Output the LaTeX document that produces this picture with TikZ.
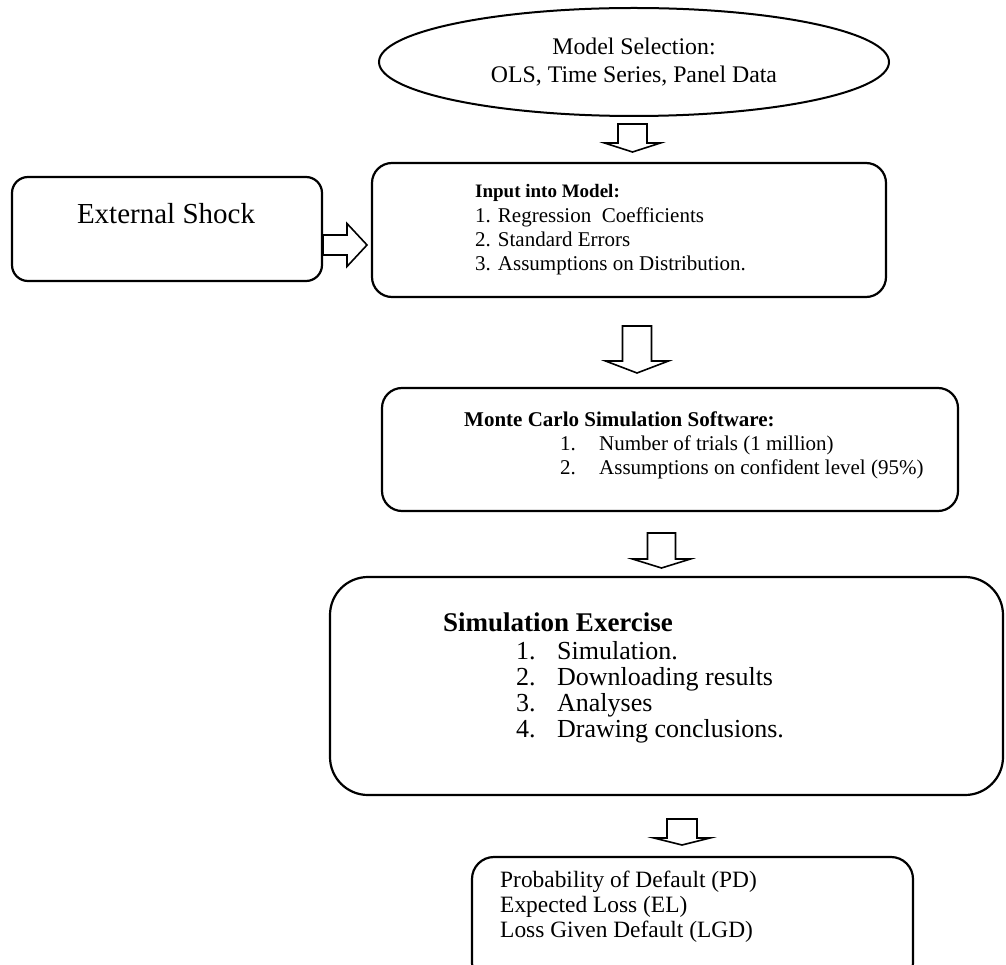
\documentclass[tikz,border=0pt]{standalone}
\usepackage{fontspec}
\setmainfont{Liberation Serif}
\usetikzlibrary{shapes.geometric,calc}

\newcommand{\setfs}[2]{\fontsize{#1}{#2}\selectfont}
% hollow block arrows: start, shaft length, head length, shaft half width, head half width
\newcommand{\blockdown}[5]{%
  \draw[hollow] ([xshift=-#4pt]#1) -- ++(0,#2) -- ++(#4-#5,0) -- ++(#5,#3)
    -- ++(#5,-#3) -- ++(#4-#5,0) -- ++(0,-#2) -- cycle;}
\newcommand{\blockright}[5]{%
  \draw[hollow] ([yshift=#4pt]#1) -- ++(#2,0) -- ++(0,#4-#5) -- ++(#3,#5)
    -- ++(-#3,#5) -- ++(0,#4-#5) -- ++(-#2,0) -- cycle;}

\tikzset{
  box/.style={draw, line width=2.2pt, rounded corners=#1, inner sep=0pt, outer sep=0pt},
  box/.default=20pt,
  txt/.style={inner sep=0pt, align=left, anchor=north west},
  hollow/.style={draw, line width=1.6pt, fill=white, line join=miter},
}

\begin{document}
\begin{tikzpicture}[x=1pt,y=-1pt]
    \useasboundingbox (0,0) rectangle (1006,965);
    \clip (0,0) rectangle (1006,965);

    % model choice
    \node[draw, ellipse, line width=2pt, outer sep=0pt, inner sep=0pt, minimum width=510pt, minimum height=108pt,
          align=center, font=\setfs{23.8}{28}] (sel) at (634,62) {Model Selection:\\OLS, Time Series, Panel Data};

    % boxes
    \node[box=16pt, minimum width=310pt, minimum height=104pt] (shock) at (167,229) {};
    \node[box, minimum width=514pt, minimum height=134pt] (inp) at (629,230) {};
    \node[box, minimum width=576pt, minimum height=123pt] (mc) at (670,449.5) {};
    \node[box=38pt, minimum width=673pt, minimum height=218pt] (sim) at (666.5,686) {};
    \node[box=22pt, minimum width=441pt, minimum height=128pt] (res) at (692.5,921) {};

    % texts
    \node[txt, anchor=north, font=\setfs{29}{33}] (shocktxt) at ($(shock.north)+(-1,25.8)$) {External Shock};
    \node[txt, font=\setfs{21}{24}] (inptxt) at ($(inp.north west)+(103,21.3)$)
        {{\setfs{19}{24}\bfseries Input into Model:}\\[0.7pt]
         1. Regression~~Coefficients\\
         2. Standard Errors\\
         3. Assumptions on Distribution.};
    \node[txt, font=\setfs{21}{24}] (mctxt) at ($(mc.north west)+(82,23.6)$)
        {\textbf{Monte Carlo Simulation Software:}\\
         \hspace*{96pt}\makebox[39pt][l]{1.}Number of trials (1 million)\\
         \hspace*{96pt}\makebox[39pt][l]{2.}Assumptions on confident level (95\%)};
    \node[txt, font=\setfs{26}{26}] (simtxt) at ($(sim.north west)+(113,35.5)$)
        {{\setfs{27}{26}\bfseries Simulation Exercise}\\[2.5pt]
         \hspace*{73pt}\makebox[41pt][l]{1.}Simulation.\\
         \hspace*{73pt}\makebox[41pt][l]{2.}Downloading results\\
         \hspace*{73pt}\makebox[41pt][l]{3.}Analyses\\
         \hspace*{73pt}\makebox[41pt][l]{4.}Drawing conclusions.};
    \node[txt, font=\setfs{23.4}{25}] (restxt) at ($(res.north west)+(28,13.5)$)
        {Probability of Default (PD)\\
         Expected Loss (EL)\\
         Loss Given Default (LGD)};

    % block arrows
    \coordinate (a1) at ($(sel.south)+(-1.5,8)$);
    \coordinate (a2) at ($(inp.south)+(8,29)$);
    \coordinate (a3) at ($(mc.south)+(-8.5,22)$);
    \coordinate (a4) at ($(sim.south)+(15.5,24)$);
    \coordinate (ar) at ($(shock.east)+(1,16)$);
    \blockdown{a1}{19}{9}{14.5}{28}
    \blockdown{a2}{35}{12}{14.5}{31.5}
    \blockdown{a3}{26}{9}{14}{29}
    \blockdown{a4}{19}{7}{15}{28}
    \blockright{ar}{24}{20}{10}{21.5}
\end{tikzpicture}
\end{document}
